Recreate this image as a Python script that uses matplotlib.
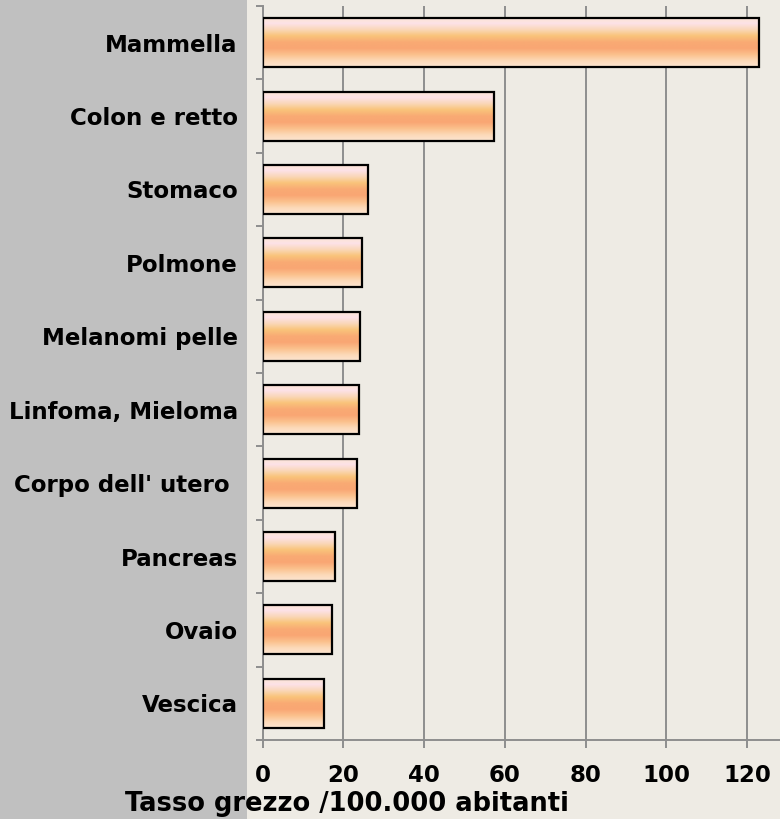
import numpy as np
import matplotlib
matplotlib.use("Agg")
import matplotlib.pyplot as plt
from matplotlib.colors import LinearSegmentedColormap
from matplotlib.patches import Rectangle

# Data (top to bottom as in the chart)
categories = ["Mammella", "Colon e retto", "Stomaco", "Polmone", "Melanomi pelle",
              "Linfoma, Mieloma", "Corpo dell' utero ", "Pancreas", "Ovaio", "Vescica"]
values = [123.0, 57.4, 26.0, 24.7, 24.1, 23.8, 23.4, 17.9, 17.2, 15.2]
xticks = [0, 20, 40, 60, 80, 100, 120]
xlabel = "Tasso grezzo /100.000 abitanti"

plt.rcParams['font.family'] = ['DejaVu Sans']
plt.rcParams['font.weight'] = 'bold'

beige = "#eeebe4"
grid_col = "#8e8e8e"

fig = plt.figure(figsize=(7.8, 8.19), dpi=100, facecolor=beige)
# gray panel behind the category labels
fig.patches.append(Rectangle((0, 0), 247 / 780, 1, transform=fig.transFigure,
                             facecolor="#c0c0c0", edgecolor="none", zorder=-5))

ax = fig.add_axes([262.7 / 780, 1 - 740 / 819, 1 - 262.7 / 780, (740 - 6) / 819])
ax.set_facecolor(beige)

# bar gradient, top -> bottom
stops = ["#fce6d0", "#fde2e8", "#fad7b8", "#f9c47a", "#f9aa74", "#f9a673",
         "#fbc08c", "#fcd9b8", "#fde6d2"]
cmap = LinearSegmentedColormap.from_list("bar", stops[::-1])
grad = np.linspace(0, 1, 256).reshape(-1, 1)

n = len(categories)
ypos = np.arange(n)[::-1]
h = 0.67
for y, v in zip(ypos, values):
    ax.imshow(grad, extent=(0, v, y - h / 2, y + h / 2), origin="lower",
              aspect="auto", cmap=cmap, zorder=2, interpolation="bilinear")
ax.barh(ypos, values, height=h, facecolor="none", edgecolor="black",
        linewidth=1.6, zorder=3)

ax.set_xlim(0, (780 - 262.7) / 4.037)
ax.set_ylim(-0.5, n - 0.5)

ax.set_xticks(xticks)
ax.set_xticklabels([str(t) for t in xticks], fontsize=16.5, fontweight="bold")
ax.set_yticks(ypos)
ax.set_yticklabels(categories, fontsize=16.5, fontweight="bold")
ax.set_yticks(np.arange(n + 1) - 0.5, minor=True)

ax.tick_params(axis="y", which="major", length=0, pad=18)
ax.tick_params(axis="y", which="minor", length=5, width=1.4, color=grid_col)
ax.tick_params(axis="x", which="major", length=6, width=1.4, color=grid_col, pad=11)

ax.grid(axis="x", color=grid_col, linewidth=1.4, zorder=1)
ax.set_axisbelow(True)
for s in ["top", "right"]:
    ax.spines[s].set_visible(False)
for s in ["left", "bottom"]:
    ax.spines[s].set_color(grid_col)
    ax.spines[s].set_linewidth(1.4)

fig.text(347 / 780, 1 - 804 / 819, xlabel, ha="center", va="center",
         fontsize=18.5, fontweight="bold")

fig.savefig("out.png", dpi=100, facecolor=beige)
